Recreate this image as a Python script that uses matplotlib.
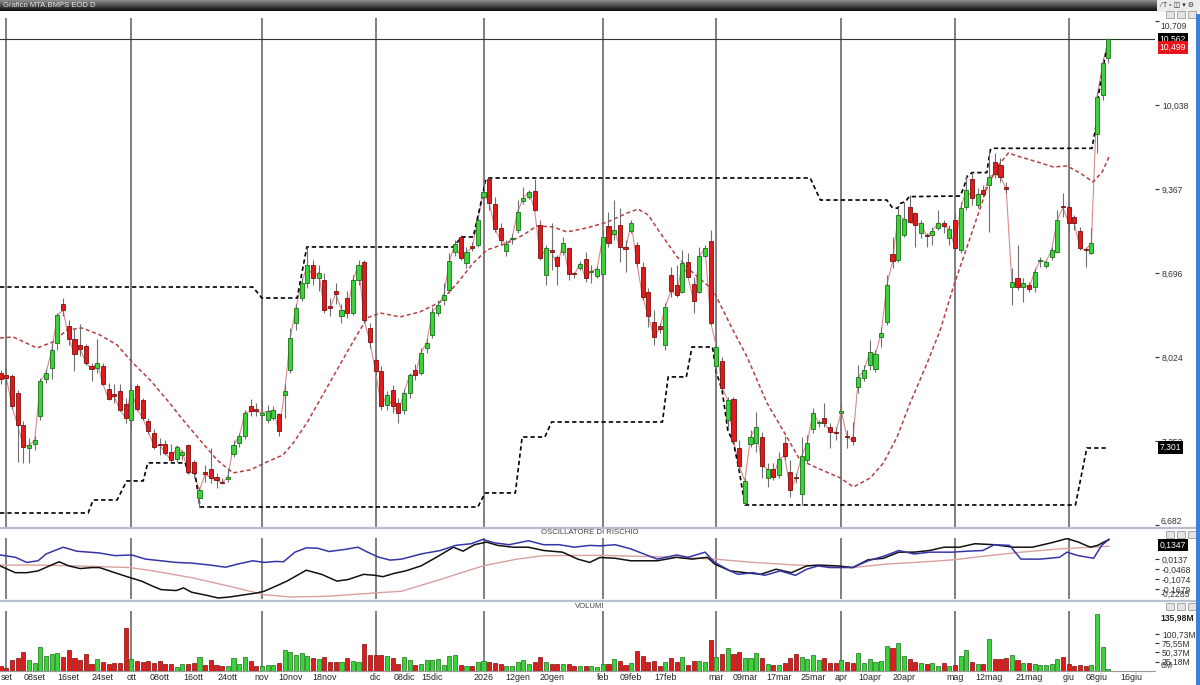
import numpy as np
import matplotlib
matplotlib.use("Agg")
import matplotlib.pyplot as plt
from matplotlib.patches import Rectangle
from matplotlib.lines import Line2D

plt.rcParams["font.family"] = ["Liberation Sans", "DejaVu Sans"]

# Daily bars, index -1 = last bar of August, 0 = 1 Sep 2025 ... 194 = 10 Jun 2026
opens = [7.90, 7.88, 7.87, 7.74, 7.48, 7.30, 7.33, 7.55, 7.85, 7.94,
         8.14, 8.45, 8.27, 8.17, 8.12, 8.11, 7.95, 7.94, 7.95, 7.77,
         7.73, 7.75, 7.65, 7.52, 7.79, 7.68, 7.51, 7.42, 7.33, 7.33,
         7.27, 7.21, 7.24, 7.32, 7.19, 6.90, 7.11, 7.13, 7.07, 7.03,
         7.05, 7.25, 7.34, 7.39, 7.63, 7.61, 7.56, 7.52, 7.54, 7.57,
         7.72, 7.92, 8.30, 8.50, 8.62, 8.76, 8.66, 8.64, 8.43, 8.55,
         8.35, 8.50, 8.38, 8.64, 8.78, 8.26, 8.00, 7.91, 7.64, 7.76,
         7.66, 7.60, 7.74, 7.92, 7.90, 8.10, 8.20, 8.38, 8.48, 8.56,
         8.86, 8.985, 8.775, 8.91, 8.92, 9.30, 9.445, 9.245, 9.055, 8.875,
         8.965, 9.04, 9.27, 9.30, 9.35, 9.08, 8.68, 8.88, 8.825, 8.865,
         8.895, 8.69, 8.735, 8.81, 8.705, 8.67, 8.69, 9.07, 9.01, 9.08,
         8.90, 9.03, 8.92, 8.745, 8.545, 8.305, 8.275, 8.12, 8.68, 8.60,
         8.545, 8.785, 8.61, 8.545, 8.83, 8.95, 7.955, 7.995, 7.52, 7.69,
         7.30, 6.86, 7.33, 7.34, 7.385, 7.06, 7.13, 7.085, 7.34, 7.105,
         7.06, 6.93, 7.20, 7.45, 7.495, 7.54, 7.465, 7.425, 7.58, 7.39,
         7.385, 7.785, 7.855, 7.96, 7.93, 8.185, 8.305, 8.85, 8.80, 9.00,
         9.225, 9.175, 9.015, 9.00, 9.00, 9.055, 9.095, 8.975, 9.12, 8.88,
         9.225, 9.445, 9.24, 9.36, 9.40, 9.585, 9.56, 9.38, 8.585, 8.655,
         8.585, 8.60, 8.585, 8.795, 8.75, 8.825, 8.865, 9.23, 9.225, 9.145,
         9.03, 8.885, 8.855, 9.805, 10.12, 10.41]
highs = [7.92, 7.94, 7.89, 7.76, 7.51, 7.38, 7.39, 7.86, 7.93, 8.14,
         8.38, 8.50, 8.32, 8.25, 8.29, 8.13, 7.98, 8.17, 7.98, 7.82,
         7.81, 7.81, 7.70, 7.80, 7.81, 7.70, 7.54, 7.45, 7.38, 7.36,
         7.33, 7.32, 7.28, 7.33, 7.20, 6.99, 7.16, 7.30, 7.10, 7.06,
         7.13, 7.36, 7.42, 7.60, 7.69, 7.66, 7.69, 7.64, 7.63, 7.58,
         7.81, 8.26, 8.45, 8.66, 8.90, 8.80, 8.76, 8.70, 8.50, 8.62,
         8.45, 8.55, 8.68, 8.80, 8.80, 8.30, 8.05, 7.95, 7.75, 7.80,
         7.70, 7.77, 7.90, 7.97, 8.10, 8.18, 8.425, 8.48, 8.62, 8.855,
         8.96, 9.00, 8.905, 8.94, 9.16, 9.44, 9.455, 9.30, 9.095, 8.96,
         9.01, 9.28, 9.38, 9.36, 9.45, 9.12, 8.92, 9.095, 8.84, 8.98,
         8.905, 8.705, 8.79, 8.865, 8.76, 8.75, 9.04, 9.185, 9.28, 9.215,
         8.96, 9.12, 8.945, 8.785, 8.575, 8.40, 8.30, 8.455, 8.745, 8.76,
         8.88, 8.855, 8.665, 8.905, 8.92, 9.04, 8.185, 8.025, 7.705, 7.705,
         7.36, 7.06, 7.44, 7.585, 7.425, 7.18, 7.18, 7.265, 7.395, 7.20,
         7.10, 7.385, 7.40, 7.62, 7.52, 7.66, 7.50, 7.465, 7.66, 7.44,
         7.505, 7.96, 7.96, 8.16, 8.08, 8.265, 8.68, 8.985, 9.225, 9.265,
         9.32, 9.185, 9.12, 9.015, 9.065, 9.20, 9.12, 9.08, 9.175, 9.265,
         9.48, 9.495, 9.375, 9.40, 9.69, 9.655, 9.615, 9.42, 8.736, 8.92,
         8.655, 8.625, 8.735, 8.825, 8.80, 8.905, 9.20, 9.335, 9.265, 9.16,
         9.065, 8.905, 9.055, 10.14, 10.41, 10.57]
lows = [7.81, 7.81, 7.61, 7.19, 7.18, 7.18, 7.28, 7.52, 7.82, 7.85,
        8.08, 8.35, 8.12, 7.91, 8.03, 7.96, 7.83, 7.90, 7.80, 7.68,
        7.66, 7.59, 7.50, 7.45, 7.59, 7.52, 7.41, 7.29, 7.24, 7.24,
        7.19, 7.19, 7.20, 7.09, 7.06, 6.83, 7.03, 7.02, 6.98, 7.01,
        7.03, 7.23, 7.31, 7.37, 7.55, 7.55, 7.54, 7.50, 7.52, 7.39,
        7.54, 7.90, 8.24, 8.47, 8.58, 8.60, 8.55, 8.38, 8.35, 8.45,
        8.30, 8.34, 8.36, 8.60, 8.30, 8.10, 7.88, 7.60, 7.60, 7.58,
        7.50, 7.57, 7.70, 7.84, 7.88, 8.06, 8.175, 8.35, 8.44, 8.535,
        8.83, 8.80, 8.735, 8.87, 8.905, 9.28, 9.20, 9.025, 8.92, 8.83,
        8.93, 9.015, 9.25, 9.29, 9.19, 8.80, 8.60, 8.72, 8.60, 8.84,
        8.64, 8.655, 8.72, 8.625, 8.615, 8.66, 8.665, 8.905, 8.96, 8.785,
        8.705, 9.015, 8.745, 8.48, 8.265, 8.12, 8.22, 8.08, 8.505, 8.505,
        8.535, 8.655, 8.375, 8.535, 8.82, 8.28, 7.90, 7.76, 7.44, 7.34,
        7.12, 6.843, 7.305, 7.265, 7.06, 6.985, 7.04, 7.06, 7.20, 6.91,
        7.02, 6.845, 7.18, 7.42, 7.465, 7.465, 7.30, 7.36, 7.545, 7.30,
        7.32, 7.74, 7.83, 7.92, 7.905, 8.105, 8.28, 8.735, 8.785, 8.985,
        9.095, 8.905, 8.975, 8.905, 8.92, 9.04, 9.015, 8.92, 8.88, 8.855,
        9.20, 9.24, 9.215, 9.30, 9.02, 9.455, 9.42, 9.335, 8.44, 8.56,
        8.465, 8.545, 8.545, 8.745, 8.735, 8.80, 8.855, 9.145, 9.025, 9.04,
        8.88, 8.745, 8.85, 9.655, 10.08, 10.37]
closes = [7.85, 7.86, 7.63, 7.48, 7.31, 7.32, 7.36, 7.83, 7.90, 8.08,
          8.36, 8.40, 8.17, 8.05, 8.09, 7.98, 7.93, 7.98, 7.81, 7.69,
          7.71, 7.60, 7.54, 7.76, 7.61, 7.54, 7.43, 7.31, 7.32, 7.26,
          7.20, 7.31, 7.27, 7.11, 7.10, 6.96, 7.09, 7.06, 7.04, 7.02,
          7.07, 7.32, 7.39, 7.58, 7.59, 7.59, 7.58, 7.59, 7.60, 7.43,
          7.75, 8.18, 8.42, 8.62, 8.76, 8.66, 8.70, 8.40, 8.42, 8.53,
          8.40, 8.38, 8.64, 8.76, 8.32, 8.145, 7.91, 7.63, 7.72, 7.63,
          7.58, 7.74, 7.88, 7.88, 8.06, 8.14, 8.385, 8.44, 8.52, 8.79,
          8.93, 8.815, 8.865, 8.895, 9.12, 9.345, 9.255, 9.05, 8.96, 8.93,
          8.97, 9.185, 9.295, 9.345, 9.20, 8.815, 8.895, 8.865, 8.75, 8.935,
          8.69, 8.685, 8.77, 8.655, 8.71, 8.73, 8.985, 8.935, 9.04, 8.905,
          8.89, 9.095, 8.775, 8.505, 8.355, 8.185, 8.25, 8.425, 8.555, 8.52,
          8.775, 8.665, 8.47, 8.83, 8.895, 8.30, 8.105, 7.78, 7.68, 7.355,
          7.155, 7.035, 7.385, 7.465, 7.155, 7.13, 7.065, 7.21, 7.235, 6.965,
          7.055, 7.235, 7.34, 7.58, 7.50, 7.50, 7.425, 7.42, 7.59, 7.385,
          7.355, 7.865, 7.92, 8.065, 8.05, 8.215, 8.60, 8.79, 9.16, 9.125,
          9.105, 9.08, 9.095, 8.99, 9.03, 9.095, 9.07, 9.05, 8.895, 9.215,
          9.36, 9.295, 9.325, 9.325, 9.465, 9.485, 9.465, 9.37, 8.625, 8.585,
          8.615, 8.57, 8.705, 8.80, 8.785, 8.88, 9.12, 9.22, 9.095, 9.095,
          8.895, 8.88, 8.935, 10.10, 10.37, 10.562]
# volumes in millions
volumes = [13.0, 6.9, 30.4, 33.9, 51.2, 28.6, 21.7, 65.1, 40.8, 46.0,
           47.7, 37.3, 56.4, 36.5, 30.4, 46.9, 20.0, 32.1, 24.3, 19.1,
           21.7, 21.7, 117.2, 32.1, 26.0, 25.2, 26.0, 21.7, 26.9, 20.0,
           19.1, 11.3, 18.2, 18.2, 21.7, 38.2, 17.4, 28.6, 17.4, 12.2,
           13.0, 36.5, 20.0, 38.2, 26.9, 13.9, 13.9, 15.6, 15.6, 21.7,
           55.6, 52.1, 44.3, 48.6, 41.7, 35.6, 31.2, 39.1, 24.3, 24.3,
           24.3, 36.5, 26.9, 25.2, 72.9, 42.5, 43.4, 43.4, 40.8, 36.5,
           20.0, 39.1, 28.6, 16.5, 20.0, 29.5, 29.5, 32.1, 16.5, 41.7,
           44.3, 16.5, 13.0, 14.8, 25.2, 27.8, 25.2, 21.7, 19.1, 13.0,
           13.0, 23.4, 29.5, 19.1, 23.4, 37.3, 23.4, 19.1, 19.1, 18.2,
           19.1, 13.0, 13.9, 12.2, 12.2, 10.4, 20.0, 20.0, 32.1, 26.0,
           17.4, 21.7, 54.7, 40.8, 25.2, 26.0, 13.0, 23.4, 34.7, 23.4,
           37.3, 16.5, 26.0, 27.8, 25.2, 85.1, 38.2, 46.9, 62.5, 46.0,
           51.2, 33.9, 33.9, 47.7, 36.5, 20.0, 16.5, 15.6, 20.8, 33.9,
           46.9, 38.2, 31.2, 43.4, 28.6, 33.9, 21.7, 22.6, 29.5, 25.2,
           22.6, 49.5, 21.7, 31.2, 23.4, 27.8, 68.6, 63.4, 76.4, 40.8,
           32.1, 23.4, 21.7, 20.0, 21.7, 12.2, 21.7, 13.0, 16.5, 41.7,
           57.3, 25.2, 19.1, 19.1, 87.7, 32.1, 32.1, 36.5, 42.5, 28.6,
           21.7, 21.7, 19.1, 15.6, 15.6, 19.1, 31.2, 37.3, 20.0, 13.0,
           15.6, 13.0, 16.5, 154.5, 65.1, 4.3]

# 50-bar channel (black dashed), read at its corners
upper_x = [-1.11, 43.4, 45.0, 51.2, 52.9, 78.6, 80.2, 82.2, 84.0, 84.3, 84.8, 141.5, 143.3,
           155.0, 155.9, 156.9, 157.4, 158.3, 158.9, 167.9, 168.6, 169.1, 170.0, 172.6,
           173.2, 173.5, 191.1, 191.9, 192.2, 193.2, 194.0]
upper_y = [8.584, 8.584, 8.496, 8.496, 8.904, 8.904, 8.984, 8.984, 9.35, 9.43, 9.455, 9.455, 9.279,
           9.279, 9.221, 9.213, 9.253, 9.266, 9.306, 9.311, 9.386, 9.466, 9.498, 9.498,
           9.678, 9.692, 9.692, 9.892, 10.105, 10.371, 10.552]
lower_x = [-1.11, 14.4, 15.3, 19.5, 21.2, 24.1, 24.9, 31.5, 32.0, 33.2, 34.1, 83.0, 84.3, 89.6,
           90.8, 94.8, 96.0, 115.5, 116.5, 119.7, 120.7, 124.3, 125.0, 126.0, 127.0, 128.0,
           129.0, 130.0, 188.2, 190.2, 194.0]
lower_y = [6.779, 6.779, 6.883, 6.883, 7.035, 7.035, 7.179, 7.179, 7.099, 7.099, 6.827, 6.827,
           6.939, 6.939, 7.386, 7.386, 7.506, 7.506, 7.866, 7.866, 8.105, 8.105, 7.90, 7.76,
           7.44, 7.34, 7.12, 6.843, 6.843, 7.298, 7.298]

# moving average (red dashed)
ma_x = [-1.1, 1.2, 5.4, 8.2, 10.7, 13.3, 16.5, 19.5, 22.3, 25.3, 28.3, 31.1, 34.1, 37.1, 39.9,
        42.9, 45.9, 48.7, 50.5, 52.9, 55.2, 57.5, 60.5, 63.5, 65.8, 69.3, 72.8, 76.4, 79.4,
        82.2, 84.6, 88.2, 91.0, 93.4, 96.2, 98.7, 102.2, 105.8, 109.3, 111.2, 113.0, 115.1,
        118.1, 120.9, 124.4, 127.9, 130.4, 133.9, 137.4, 139.7, 142.7, 146.8, 149.1, 152.1,
        154.4, 156.8, 159.1, 162.1, 164.4, 166.7, 169.7, 172.7, 174.4, 176.4, 178.5, 181.5,
        184.3, 186.7, 189.0, 191.3, 192.9, 194.1]
ma_y = [8.177, 8.185, 8.097, 8.145, 8.241, 8.257, 8.201, 8.121, 7.977, 7.842, 7.682, 7.522,
        7.362, 7.202, 7.099, 7.123, 7.187, 7.242, 7.338, 7.498, 7.682, 7.865, 8.105, 8.337,
        8.377, 8.345, 8.385, 8.465, 8.616, 8.776, 8.880, 8.936, 9.000, 9.072, 9.064, 9.024,
        9.056, 9.103, 9.175, 9.207, 9.159, 9.016, 8.824, 8.696, 8.560, 8.241, 8.025, 7.658,
        7.386, 7.203, 7.139, 7.059, 6.987, 7.059, 7.179, 7.386, 7.658, 7.977, 8.241, 8.584,
        8.984, 9.383, 9.543, 9.655, 9.623, 9.583, 9.543, 9.551, 9.495, 9.423, 9.503, 9.623]

# risk oscillator
blue_x = [-1.1, 1.6, 3.6, 5.6, 7.0, 10.0, 12.4, 16.4, 19.1, 22.1, 24.5, 27.2, 29.9, 32.6, 35.9,
          38.6, 40.7, 43.4, 45.4, 47.4, 48.8, 50.8, 52.8, 54.8, 56.8, 59.5, 61.9, 63.6, 65.6,
          67.6, 69.6, 73.0, 76.4, 79.1, 81.8, 83.9, 85.8, 88.5, 91.9, 94.6, 97.3, 100.0, 102.7,
          104.5, 107.2, 109.9, 114.6, 118.0, 120.0, 123.0, 124.7, 127.4, 128.8, 131.5, 133.5,
          136.2, 138.9, 140.9, 142.9, 144.9, 149.0, 151.7, 154.4, 157.1, 159.8, 162.5, 166.5,
          169.2, 171.9, 173.9, 176.6, 178.6, 182.0, 185.4, 186.7, 188.7, 191.4, 192.8, 194.1]
blue_y = [0.040, 0.026, -0.005, 0.005, 0.046, 0.087, 0.063, 0.052, 0.036, 0.040, 0.015, 0.005,
          -0.005, -0.009, -0.021, -0.034, -0.015, 0.005, -0.005, 0.001, -0.001, 0.057, 0.083,
          0.081, 0.061, 0.073, 0.087, 0.057, 0.026, 0.009, 0.015, 0.046, 0.067, 0.098, 0.108,
          0.134, 0.114, 0.102, 0.126, 0.102, 0.102, 0.087, 0.098, 0.095, 0.102, 0.077, 0.015,
          0.040, 0.026, 0.057, -0.005, -0.056, -0.077, -0.067, -0.083, -0.056, -0.083, -0.046,
          -0.026, -0.036, -0.036, 0.005, 0.032, 0.067, 0.046, 0.057, 0.057, 0.063, 0.067, 0.102,
          0.098, 0.015, 0.015, 0.026, 0.057, 0.036, 0.020, 0.098, 0.134]
black_x = [-1.1, 1.6, 3.6, 5.6, 7.6, 9.3, 11.0, 13.0, 15.1, 16.4, 19.1, 21.8, 23.8, 25.8, 27.2,
           29.9, 31.2, 32.6, 35.3, 37.3, 39.3, 42.0, 44.0, 45.4, 47.4, 49.4, 52.8, 55.5, 58.2,
           60.2, 62.9, 64.9, 66.3, 68.3, 70.3, 73.0, 75.7, 78.7, 80.4, 82.4, 84.5, 86.5, 89.2,
           91.9, 94.6, 97.9, 100.6, 102.7, 104.5, 107.2, 109.9, 114.6, 118.0, 120.7, 123.4,
           124.7, 127.4, 130.1, 132.8, 135.5, 138.2, 140.9, 142.9, 146.3, 149.0, 151.7, 154.4,
           157.1, 159.8, 162.5, 165.1, 167.8, 170.5, 173.9, 177.3, 180.6, 184.0, 186.7, 188.7,
           190.8, 192.1, 194.1]
black_y = [-0.026, -0.067, -0.067, -0.056, -0.026, -0.001, -0.026, -0.042, -0.036, -0.036,
           -0.067, -0.097, -0.118, -0.149, -0.169, -0.175, -0.159, -0.185, -0.204, -0.220,
           -0.214, -0.200, -0.190, -0.179, -0.149, -0.118, -0.052, -0.077, -0.118, -0.108,
           -0.077, -0.083, -0.091, -0.071, -0.056, -0.026, 0.026, 0.087, 0.063, 0.102, 0.118,
           0.098, 0.087, 0.087, 0.067, 0.057, 0.015, -0.005, 0.025, 0.020, 0.005, 0.005, 0.026,
           0.015, 0.026, -0.015, -0.056, -0.067, -0.077, -0.046, -0.067, -0.026, -0.021, -0.026,
           -0.036, 0.011, 0.020, 0.057, 0.057, 0.067, 0.087, 0.087, 0.108, 0.102, 0.087, 0.087,
           0.114, 0.139, 0.118, 0.087, 0.098, 0.134]
pink_x = [-1.1, 5.6, 12.4, 21.8, 25.8, 32.6, 39.3, 45.4, 50.1, 56.2, 62.9, 69.6, 76.4, 83.9,
          89.9, 94.6, 104.5, 111.2, 118.0, 124.7, 131.5, 138.2, 144.9, 149.0, 155.0, 161.8,
          166.8, 171.9, 178.6, 185.4, 194.1]
pink_y = [-0.021, -0.021, -0.026, -0.036, -0.056, -0.097, -0.149, -0.200, -0.214, -0.210,
          -0.194, -0.179, -0.108, -0.026, 0.015, 0.036, 0.038, 0.032, 0.026, 0.015, -0.005,
          -0.019, -0.030, -0.036, -0.015, -0.001, 0.011, 0.032, 0.057, 0.077, 0.093]

month_starts = [0, 22, 45, 65, 84, 105, 125, 147, 167, 187]
date_ticks = [0, 5, 11, 17, 22, 27, 33, 39, 45, 50, 56, 65, 70, 75, 84, 90, 96, 105, 110, 116,
              125, 130, 136, 142, 147, 152, 158, 167, 173, 180, 187, 192, 198]
date_labels = ["set", "08set", "16set", "24set", "ott", "08ott", "16ott", "24ott", "nov",
               "10nov", "18nov", "dic", "08dic", "15dic", "2026", "12gen", "20gen", "feb",
               "09feb", "17feb", "mar", "09mar", "17mar", "25mar", "apr", "10apr", "20apr",
               "mag", "12mag", "21mag", "giu", "08giu", "16giu"]
price_ticks = [10.709, 10.038, 9.367, 8.696, 8.024, 7.353, 6.682]
osc_ticks = [0.0137, -0.0468, -0.1074, -0.1679]
vol_ticks = [25.18, 50.37, 75.55, 100.73]

opens = np.array(opens); highs = np.array(highs)
lows = np.array(lows); closes = np.array(closes)
bars = np.arange(len(opens)) - 1
up = closes >= opens

W, H = 1200, 685
fig = plt.figure(figsize=(W / 100, H / 100), dpi=100)
fig.patch.set_facecolor("white")


def rect(x0, y0, x1, y1):
    return [x0 / W, 1 - y1 / H, (x1 - x0) / W, (y1 - y0) / H]


def fx(x):
    return x / W


def fy(y):
    return 1 - y / H


def it(v):
    return f"{v:.3f}".replace(".", ",")


XL = (-1.11, 202.2)
GREEN, GREEN_E = "#3ad43a", "#1d6e1d"
RED, RED_E = "#e01b1b", "#7a1010"
GRID = "#5c5c5c"
FS = 6.2

# ---------- price panel
ax = fig.add_axes(rect(0, 18, 1155, 527))
ax.set_xlim(XL)
ax.set_ylim(6.667, 10.733)
for m in month_starts:
    ax.axvline(m, color=GRID, lw=1.1, zorder=1)
ax.axhline(10.562, color="#333333", lw=0.8, zorder=1)
ax.plot(bars, closes, color="#d98a8a", lw=0.8, zorder=2)
ax.plot(upper_x, upper_y, color="black", lw=1.2, ls=(0, (2.6, 1.8)), zorder=2)
ax.plot(lower_x, lower_y, color="black", lw=1.2, ls=(0, (2.6, 1.8)), zorder=2)
ax.plot(ma_x, ma_y, color="#b5403f", lw=1.1, ls=(0, (2.6, 1.8)), zorder=2)

body_lo = np.minimum(opens, closes)
body_h = np.maximum(np.abs(closes - opens), 0.008)
ax.vlines(bars, lows, highs, color="#6e6e6e", lw=0.8, zorder=3)
ax.bar(bars[up], body_h[up], bottom=body_lo[up], width=0.72, color=GREEN,
       edgecolor=GREEN_E, lw=0.6, zorder=4)
ax.bar(bars[~up], body_h[~up], bottom=body_lo[~up], width=0.72, color=RED,
       edgecolor=RED_E, lw=0.6, zorder=4)

# right scale: the two outer labels sit a little inside the panel, as in the terminal
ax.yaxis.tick_right()
ax.set_yticks(price_ticks)
ax.set_yticklabels([""] + [it(t) for t in price_ticks[1:-1]] + [""])
ax.tick_params(axis="y", length=3, width=0.8, colors="#333333", labelsize=FS, pad=2)
ax.tick_params(axis="x", bottom=False, labelbottom=False)
for s in ax.spines.values():
    s.set_visible(False)
ax.text(1.0045, (527 - 26) / 509, it(price_ticks[0]), transform=ax.transAxes, ha="left",
        va="center", fontsize=FS, color="#333333", clip_on=False)
ax.text(1.0045, (527 - 521) / 509, it(price_ticks[-1]), transform=ax.transAxes, ha="left",
        va="center", fontsize=FS, color="#333333", clip_on=False)


def tag(axis, y, text, fc, trans=None):
    if trans is None:
        trans = axis.get_yaxis_transform()
    axis.text(1.004, y, text, transform=trans, ha="left", va="center", fontsize=FS,
              color="white", zorder=10, clip_on=False,
              bbox=dict(boxstyle="square,pad=0.22", fc=fc, ec="none"))


tag(ax, 10.562, "10,562", "black")
tag(ax, 10.499, "10,499", "#e8141c")
tag(ax, 7.301, "7,301", "black")

# ---------- oscillator panel
ax_o = fig.add_axes(rect(0, 538, 1155, 599))
ax_o.set_xlim(XL)
ax_o.set_ylim(-0.226, 0.1426)
for m in month_starts:
    ax_o.axvline(m, color=GRID, lw=1.1, zorder=1)
ax_o.plot(pink_x, pink_y, color="#d9a0a0", lw=1.0, zorder=2)
ax_o.plot(black_x, black_y, color="#111111", lw=1.1, zorder=3)
ax_o.plot(blue_x, blue_y, color="#3535a8", lw=1.1, zorder=4)
ax_o.yaxis.tick_right()
ax_o.set_yticks(osc_ticks)
ax_o.set_yticklabels([f"{t:.4f}".replace(".", ",") for t in osc_ticks])
ax_o.tick_params(axis="y", length=3, width=0.8, colors="#333333", labelsize=FS, pad=2)
ax_o.tick_params(axis="x", bottom=False, labelbottom=False)
for s in ax_o.spines.values():
    s.set_visible(False)
ax_o.text(1.0045, 0.08, "-0,2285", transform=ax_o.transAxes, ha="left", va="center",
          fontsize=FS, color="#333333", clip_on=False)
tag(ax_o, 0.885, "0,1347", "black", trans=ax_o.transAxes)

# ---------- volume panel
ax_v = fig.add_axes(rect(0, 611, 1155, 671))
ax_v.set_xlim(XL)
ax_v.set_ylim(0, 162.6)
for m in month_starts:
    ax_v.axvline(m, color=GRID, lw=1.1, zorder=1)
ax_v.bar(bars, volumes, width=0.72, color=np.where(up, GREEN, RED),
         edgecolor=np.where(up, GREEN_E, RED_E), lw=0.5, zorder=3)
ax_v.yaxis.tick_right()
ax_v.set_yticks(vol_ticks)
ax_v.set_yticklabels([f"{t:.2f}M".replace(".", ",") for t in vol_ticks])
ax_v.tick_params(axis="y", length=3, width=0.8, colors="#333333", labelsize=FS, pad=2)
ax_v.set_xticks(date_ticks)
ax_v.set_xticklabels(date_labels)
ax_v.tick_params(axis="x", length=0, labelsize=6.4, colors="#222222", pad=1.5)
for k, s in ax_v.spines.items():
    s.set_visible(k == "bottom")
ax_v.spines["bottom"].set_color("#9a9a9a")
ax_v.text(1.0045, 0.1, "0M", transform=ax_v.transAxes, ha="left", va="center",
          fontsize=FS, color="#333333", clip_on=False)
ax_v.text(1.0045, 0.88, "135,98M", transform=ax_v.transAxes, ha="left", va="center",
          fontsize=FS, color="#222222", fontweight="bold", clip_on=False)

# ---------- panel titles and frame pieces
fig.text(fx(590), fy(533), "OSCILLATORE DI RISCHIO", ha="center", va="center",
         fontsize=5.6, color="#444444")
fig.text(fx(590), fy(606), "VOLUMI", ha="center", va="center", fontsize=5.6, color="#444444")
for yy in (527.5, 600.5):
    fig.add_artist(Line2D([0, fx(1195)], [fy(yy), fy(yy)], color="#b6c0cc", lw=1.6))

# title bar
tb = fig.add_axes(rect(0, 0, 1157, 11))
grad = np.linspace(0.55, 0.05, 20).reshape(-1, 1)
tb.imshow(grad, aspect="auto", cmap="gray", vmin=0, vmax=1, extent=(0, 1, 0, 1))
tb.set_axis_off()
fig.text(fx(3), fy(5.5), "Grafico MTA.BMPS EOD D", ha="left", va="center",
         fontsize=5.5, color="#e8e8e8")
fig.add_artist(Rectangle((fx(1157), fy(12)), 43 / W, 12 / H, transform=fig.transFigure,
                         fc="#ececec", ec="none"))
fig.text(fx(1160), fy(6), "⁄ T ▫ ◫ ▾ ⚙", ha="left", va="center", fontsize=5, color="#333333")

# window buttons
for yb in (11, 531, 603):
    for xb in (1166, 1177, 1188):
        fig.add_artist(Rectangle((fx(xb), fy(yb + 7)), 8 / W, 7 / H, transform=fig.transFigure,
                                 fc="#e4e4e4", ec="#9c9c9c", lw=0.6))

# blue strip at the right edge
fig.add_artist(Rectangle((fx(1196), 0), 4 / W, fy(14), transform=fig.transFigure,
                         fc="#3f7fd8", ec="none"))

fig.savefig("out.png", dpi=100)
